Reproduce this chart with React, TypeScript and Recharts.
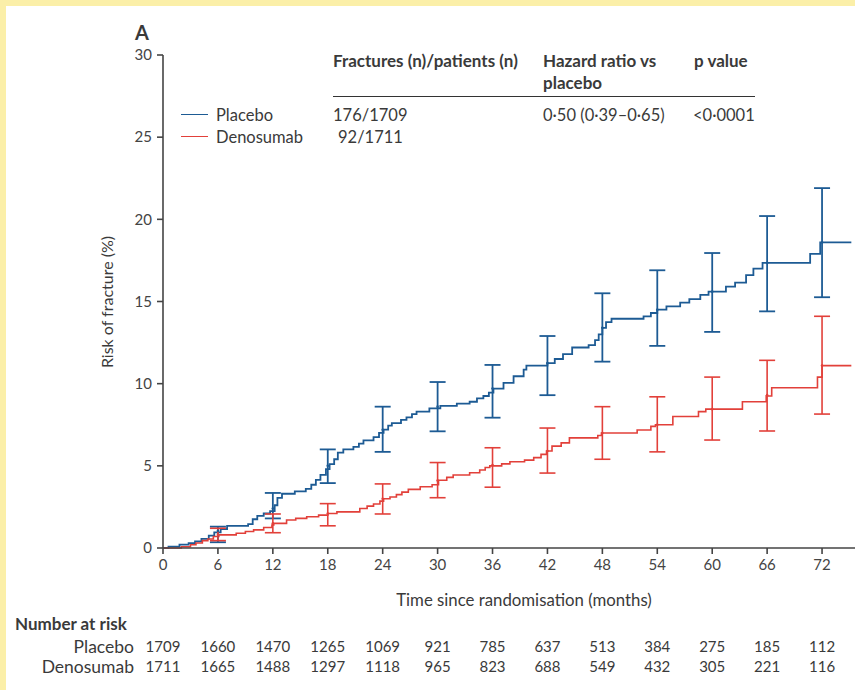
import React from 'react';
import { ComposedChart, Line, Scatter, ErrorBar, XAxis, YAxis } from 'recharts';

// Step curves (month, cumulative risk %)
const placeboMonths = [0, 0.6, 1.8, 2.8, 3.5, 4.2, 5.0, 5.6, 6.3, 7.0, 9.3, 9.8, 10.3, 11.0, 11.7, 12.2, 12.5, 13.0, 14.4, 15.6, 16.2, 16.7, 17.2, 17.8, 18.2, 18.7, 19.1, 19.7, 20.8, 21.4, 21.9, 23.0, 23.6, 24.1, 24.6, 25.0, 26.0, 26.6, 27.2, 27.7, 29.1, 30.3, 32.1, 33.5, 34.3, 35.0, 35.6, 36.1, 37.2, 38.3, 39.4, 39.7, 42.0, 42.8, 43.7, 44.7, 46.5, 47.2, 47.6, 48.0, 48.4, 49.0, 52.5, 53.3, 54.0, 55.0, 56.5, 57.5, 58.7, 59.6, 61.5, 62.5, 63.7, 64.5, 65.5, 70.7, 71.8, 75.2];
const placeboRisk = [0, 0.08, 0.2, 0.3, 0.4, 0.55, 0.75, 0.95, 1.15, 1.35, 1.45, 1.75, 1.95, 2.1, 2.25, 2.6, 3.05, 3.3, 3.45, 3.6, 3.85, 4.15, 4.45, 4.8, 5.1, 5.4, 5.8, 6.0, 6.15, 6.35, 6.55, 6.75, 7.0, 7.2, 7.45, 7.6, 7.8, 7.95, 8.15, 8.3, 8.5, 8.65, 8.78, 8.9, 9.1, 9.25, 9.45, 9.7, 10.05, 10.45, 10.85, 11.1, 11.25, 11.5, 11.8, 12.2, 12.35, 12.65, 13.0, 13.4, 13.75, 13.95, 14.1, 14.3, 14.5, 14.7, 14.93, 15.15, 15.4, 15.6, 15.9, 16.15, 16.6, 17.0, 17.35, 17.9, 18.6, 18.6];

const denosumabMonths = [0, 2.0, 3.0, 3.6, 4.3, 4.9, 5.5, 6.1, 8.0, 9.0, 9.9, 11.0, 11.9, 12.1, 13.5, 14.5, 15.7, 17.0, 18.0, 19.0, 21.5, 22.3, 23.0, 23.7, 24.1, 24.8, 25.5, 26.1, 26.8, 28.1, 29.4, 30.1, 31.0, 31.7, 33.5, 34.6, 35.2, 35.7, 37.0, 37.9, 39.5, 40.5, 41.3, 41.9, 42.5, 43.5, 44.4, 47.5, 47.9, 51.8, 53.3, 53.8, 55.7, 58.5, 59.3, 63.3, 65.9, 66.5, 71.5, 72.0, 75.2];
const denosumabRisk = [0, 0.08, 0.2, 0.3, 0.45, 0.55, 0.7, 0.8, 0.9, 1.0, 1.1, 1.25, 1.4, 1.5, 1.7, 1.8, 1.9, 2.0, 2.1, 2.2, 2.4, 2.55, 2.68, 2.85, 3.0, 3.1, 3.25, 3.4, 3.57, 3.73, 3.85, 4.12, 4.3, 4.44, 4.58, 4.75, 4.9, 5.0, 5.12, 5.25, 5.35, 5.5, 5.7, 5.9, 6.2, 6.4, 6.7, 6.85, 7.0, 7.18, 7.4, 7.5, 8.0, 8.3, 8.45, 8.9, 9.25, 9.75, 10.4, 11.1, 11.1];

// Confidence intervals at 6-month visits
const ciMonths = [6, 12, 18, 24, 30, 36, 42, 48, 54, 60, 66, 72];
const placeboEst = [1.05, 2.4, 5.0, 7.2, 8.6, 9.7, 11.25, 13.4, 14.5, 15.6, 17.35, 18.6];
const placeboLow = [0.35, 1.8, 3.95, 5.85, 7.1, 7.93, 9.3, 11.34, 12.3, 13.15, 14.4, 15.26];
const placeboHigh = [1.3, 3.35, 6.0, 8.6, 10.1, 11.14, 12.9, 15.5, 16.9, 17.95, 20.2, 21.9];
const denosumabEst = [0.8, 1.5, 2.1, 3.0, 4.1, 5.05, 5.9, 7.0, 7.5, 8.45, 9.3, 11.1];
const denosumabLow = [0.45, 0.93, 1.35, 2.07, 3.06, 3.7, 4.56, 5.4, 5.85, 6.57, 7.12, 8.15];
const denosumabHigh = [1.2, 2.07, 2.7, 3.9, 5.2, 6.1, 7.3, 8.6, 9.2, 10.4, 11.42, 14.1];

// Axes and at-risk table
const xTicks = [0, 6, 12, 18, 24, 30, 36, 42, 48, 54, 60, 66, 72];
const yTicks = [0, 5, 10, 15, 20, 25, 30];
const placeboAtRisk = [1709, 1660, 1470, 1265, 1069, 921, 785, 637, 513, 384, 275, 185, 112];
const denosumabAtRisk = [1711, 1665, 1488, 1297, 1118, 965, 823, 688, 549, 432, 305, 221, 116];

const BLUE = '#1d5b94';
const RED = '#e2403a';
const TEXT = '#3a3a3a';
const FONT = 'Lato, "Open Sans", sans-serif';

const placeboData = placeboMonths.map((m, i) => ({ m, v: placeboRisk[i] }));
const denosumabData = denosumabMonths.map((m, i) => ({ m, v: denosumabRisk[i] }));
const placeboCI = ciMonths.map((m, i) => ({ m, v: placeboEst[i], e: [placeboEst[i] - placeboLow[i], placeboHigh[i] - placeboEst[i]] }));
const denosumabCI = ciMonths.map((m, i) => ({ m, v: denosumabEst[i], e: [denosumabEst[i] - denosumabLow[i], denosumabHigh[i] - denosumabEst[i]] }));

const XTick = (props: any) => {
  const { x, y, payload } = props;
  const i = xTicks.indexOf(payload.value);
  return (
    <g fontFamily={FONT} fontSize={15} fill={TEXT}>
      <text x={x} y={y} dy={12} textAnchor="middle" fill="#444">{payload.value}</text>
      <text x={x} y={652} textAnchor="middle" fill={TEXT}>{placeboAtRisk[i]}</text>
      <text x={x} y={672} textAnchor="middle" fill={TEXT}>{denosumabAtRisk[i]}</text>
    </g>
  );
};

const T = ({ x, y, children, bold, size = 16.5, anchor = 'left' }: any) => (
  <div
    style={{
      position: 'absolute',
      left: x,
      top: y,
      transform: anchor === 'right' ? 'translate(-100%, -50%)' : 'translateY(-50%)',
      fontFamily: FONT,
      fontSize: size,
      fontWeight: bold ? 700 : 400,
      color: TEXT,
      whiteSpace: 'nowrap',
      lineHeight: 1,
    }}
  >
    {children}
  </div>
);

const noShape = (p: any) => <circle cx={p.cx} cy={p.cy} r={1.3} fill={p.fill} />;

export default function App() {
  return (
    <div style={{ position: 'absolute', left: 0, top: 0, width: 855, height: 690, background: '#fbefa8', overflow: 'hidden' }}>
      <div style={{ position: 'absolute', left: 6, top: 6, width: 849, height: 684, background: '#ffffff' }} />
      <div style={{ position: 'absolute', left: 0, top: 0 }}>
        <ComposedChart width={855} height={690} margin={{ top: 55, right: 0, bottom: 112, left: 0 }}>
          <XAxis
            dataKey="m"
            type="number"
            domain={[0, 75.6]}
            ticks={xTicks}
            allowDataOverflow
            height={30}
            tickSize={6}
            tickMargin={4}
            tick={<XTick />}
            axisLine={{ stroke: '#444', strokeWidth: 1.6 }}
            tickLine={{ stroke: '#444', strokeWidth: 1.6 }}
            interval={0}
          />
          <YAxis
            type="number"
            domain={[0, 30]}
            ticks={yTicks}
            width={163}
            tickSize={6}
            tickMargin={5}
            interval={0}
            tick={{ fill: '#444', fontSize: 15, fontFamily: FONT }}
            axisLine={{ stroke: '#444', strokeWidth: 1.6 }}
            tickLine={{ stroke: '#444', strokeWidth: 1.6 }}
          />
          <Line data={placeboData} dataKey="v" type="stepAfter" stroke={BLUE} strokeWidth={1.8} dot={false} isAnimationActive={false} />
          <Line data={denosumabData} dataKey="v" type="stepAfter" stroke={RED} strokeWidth={1.6} dot={false} isAnimationActive={false} />
          <Scatter data={placeboCI} dataKey="v" fill={BLUE} shape={noShape} isAnimationActive={false}>
            <ErrorBar dataKey="e" direction="y" width={8} stroke={BLUE} strokeWidth={1.8} isAnimationActive={false} />
          </Scatter>
          <Scatter data={denosumabCI} dataKey="v" fill={RED} shape={noShape} isAnimationActive={false}>
            <ErrorBar dataKey="e" direction="y" width={8} stroke={RED} strokeWidth={1.6} isAnimationActive={false} />
          </Scatter>
        </ComposedChart>
      </div>

      <T x={135} y={32} bold size={20}>A</T>

      {/* Legend */}
      <div style={{ position: 'absolute', left: 181, top: 114, width: 27, height: 0, borderTop: `1.6px solid ${BLUE}` }} />
      <div style={{ position: 'absolute', left: 181, top: 136, width: 27, height: 0, borderTop: `1.6px solid ${RED}` }} />
      <T x={216} y={115}>Placebo</T>
      <T x={216} y={137}>Denosumab</T>

      {/* Table */}
      <T x={333} y={60} bold size={17}>Fractures (n)/patients (n)</T>
      <T x={543} y={60} bold size={17}>Hazard ratio vs</T>
      <T x={543} y={82} bold size={17}>placebo</T>
      <T x={694} y={60} bold size={17}>p value</T>
      <div style={{ position: 'absolute', left: 333, top: 96, width: 422, height: 0, borderTop: '1.8px solid #333' }} />
      <T x={333} y={115}>176/1709</T>
      <T x={543} y={115}>0·50 (0·39–0·65)</T>
      <T x={693} y={115}>&lt;0·0001</T>
      <T x={338} y={137}>92/1711</T>

      {/* Axis titles */}
      <div
        style={{
          position: 'absolute',
          left: 107,
          top: 302,
          transform: 'translate(-50%, -50%) rotate(-90deg)',
          fontFamily: FONT,
          fontSize: 16,
          color: TEXT,
          whiteSpace: 'nowrap',
          lineHeight: 1,
        }}
      >
        Risk of fracture (%)
      </div>
      <div
        style={{
          position: 'absolute',
          left: 524,
          top: 600,
          transform: 'translate(-50%, -50%)',
          fontFamily: FONT,
          fontSize: 16.8,
          color: TEXT,
          whiteSpace: 'nowrap',
          lineHeight: 1,
        }}
      >
        Time since randomisation (months)
      </div>

      {/* Number at risk */}
      <T x={15} y={623} bold size={17}>Number at risk</T>
      <T x={134} y={647} anchor="right" size={17.5}>Placebo</T>
      <T x={134} y={667} anchor="right" size={17.5}>Denosumab</T>
    </div>
  );
}
